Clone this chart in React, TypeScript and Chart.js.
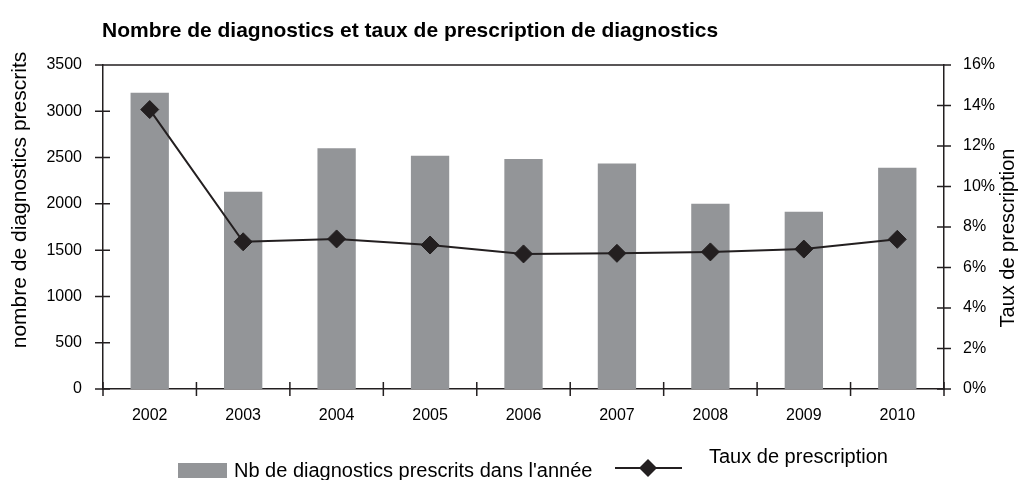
import React, { useEffect, useRef } from 'react';
import { Chart, registerables } from 'chart.js';

Chart.register(...registerables);

const years = ['2002', '2003', '2004', '2005', '2006', '2007', '2008', '2009', '2010'];
const diagnostics = [3200, 2130, 2600, 2520, 2485, 2435, 2000, 1915, 2390];
const rates = [13.8, 7.27, 7.41, 7.11, 6.67, 6.7, 6.77, 6.91, 7.39];

const leftMax = 3500;
const leftStep = 500;
const rightMax = 16;
const rightStep = 2;

const chartTitle = 'Nombre de diagnostics et taux de prescription de diagnostics';
const leftTitle = 'nombre de diagnostics prescrits';
const rightTitle = 'Taux de prescription';
const barLabel = "Nb de diagnostics prescrits dans l'année";
const lineLabel = 'Taux de prescription';

const FONT = "'Liberation Sans', Arial, sans-serif";
const BAR_COLOR = '#939598';
const INK = '#231f20';

const decor = {
  id: 'decor',
  afterDraw(chart: any) {
    const { ctx, chartArea, scales } = chart;
    const { left, right, top, bottom } = chartArea;
    const ys = scales.y;
    const y1 = scales.y1;
    const xs = scales.x;
    ctx.save();
    ctx.strokeStyle = INK;
    ctx.lineWidth = 1.5;
    ctx.beginPath();
    ctx.moveTo(left, top);
    ctx.lineTo(right, top);
    ys.ticks.forEach((_t: any, i: number) => {
      const p = ys.getPixelForTick(i);
      ctx.moveTo(left - 8, p);
      ctx.lineTo(left + 7, p);
    });
    y1.ticks.forEach((_t: any, i: number) => {
      const p = y1.getPixelForTick(i);
      ctx.moveTo(right - 7, p);
      ctx.lineTo(right + 7, p);
    });
    for (let i = 0; i <= years.length; i++) {
      const p = xs.getPixelForValue(i - 0.5);
      ctx.moveTo(p, bottom - 7);
      ctx.lineTo(p, bottom + 7);
    }
    ctx.stroke();

    ctx.fillStyle = '#000';
    ctx.font = `bold 21px ${FONT}`;
    ctx.textAlign = 'left';
    ctx.textBaseline = 'middle';
    ctx.fillText(chartTitle, 102, 31);

    ctx.textAlign = 'center';
    ctx.font = `21px ${FONT}`;
    ctx.save();
    ctx.translate(20, 200);
    ctx.rotate(-Math.PI / 2);
    ctx.fillText(leftTitle, 0, 0);
    ctx.restore();
    ctx.font = `20px ${FONT}`;
    ctx.save();
    ctx.translate(1008, 238);
    ctx.rotate(-Math.PI / 2);
    ctx.fillText(rightTitle, 0, 0);
    ctx.restore();

    // legend
    ctx.fillStyle = BAR_COLOR;
    ctx.fillRect(178, 463, 49, 15);
    ctx.fillStyle = '#000';
    ctx.font = `20px ${FONT}`;
    ctx.textAlign = 'left';
    ctx.textBaseline = 'alphabetic';
    ctx.fillText(barLabel, 234, 477);
    ctx.fillText(lineLabel, 709, 463);

    ctx.strokeStyle = INK;
    ctx.lineWidth = 2;
    ctx.beginPath();
    ctx.moveTo(615, 468);
    ctx.lineTo(682, 468);
    ctx.stroke();
    ctx.fillStyle = INK;
    ctx.beginPath();
    ctx.moveTo(648, 459);
    ctx.lineTo(657, 468);
    ctx.lineTo(648, 477);
    ctx.lineTo(639, 468);
    ctx.closePath();
    ctx.fill();
    ctx.restore();
  },
};

export default function App() {
  const ref = useRef<HTMLCanvasElement | null>(null);
  useEffect(() => {
    if (!ref.current) return;
    const tickFont = { family: FONT, size: 16 };
    const chart = new Chart(ref.current, {
      type: 'bar',
      data: {
        labels: years,
        datasets: [
          {
            type: 'line',
            label: lineLabel,
            data: rates,
            yAxisID: 'y1',
            borderColor: INK,
            borderWidth: 2,
            pointStyle: 'rectRot',
            pointRadius: 9,
            pointBackgroundColor: INK,
            pointBorderColor: INK,
            pointBorderWidth: 1,
            tension: 0,
            order: 0,
          } as any,
          {
            type: 'bar',
            label: barLabel,
            data: diagnostics,
            yAxisID: 'y',
            backgroundColor: BAR_COLOR,
            barPercentage: 0.41,
            categoryPercentage: 1,
            order: 1,
          } as any,
        ],
      },
      options: {
        responsive: false,
        animation: false,
        devicePixelRatio: 1,
        layout: { padding: { top: 65, bottom: 46, left: 0, right: 0 } },
        plugins: {
          legend: { display: false },
          tooltip: { enabled: false },
          title: { display: false },
        },
        scales: {
          x: {
            grid: { display: false },
            border: { display: true, color: INK, width: 1.5 },
            ticks: { color: '#000', font: tickFont, padding: 9, maxRotation: 0 },
            afterFit: (s: any) => {
              s.height = 45;
            },
          },
          y: {
            position: 'left',
            min: 0,
            max: leftMax,
            grid: { display: false },
            border: { display: true, color: INK, width: 1.5 },
            ticks: {
              stepSize: leftStep,
              color: '#000',
              font: tickFont,
              padding: 13,
              callback: (v: any) => String(v),
            },
            afterFit: (s: any) => {
              s.width = 103;
            },
          },
          y1: {
            position: 'right',
            min: 0,
            max: rightMax,
            grid: { display: false },
            border: { display: true, color: INK, width: 1.5 },
            ticks: {
              stepSize: rightStep,
              color: '#000',
              font: tickFont,
              padding: 11,
              callback: (v: any) => `${v}%`,
            },
            afterFit: (s: any) => {
              s.width = 81;
            },
          },
        },
      } as any,
      plugins: [decor],
    });
    return () => chart.destroy();
  }, []);
  return (
    <div style={{ position: 'absolute', left: 0, top: 0, width: 1025, height: 480 }}>
      <canvas ref={ref} width={1025} height={480} style={{ display: 'block' }} />
    </div>
  );
}
